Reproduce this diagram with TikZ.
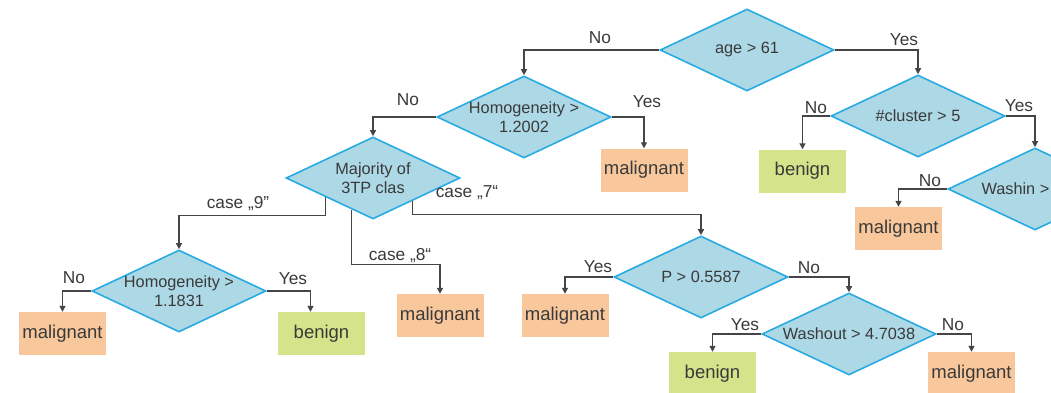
\documentclass[tikz,border=0pt]{standalone}
\usepackage{fontspec}
\setmainfont{Liberation Sans}
\usetikzlibrary{shapes.geometric,arrows.meta,calc}
\definecolor{dfill}{HTML}{ADD8E6}
\definecolor{dline}{HTML}{29ABE2}
\definecolor{malfill}{HTML}{F8C79B}
\definecolor{benfill}{HTML}{D5E38A}
\definecolor{ink}{HTML}{3A3A3A}
\definecolor{wire}{HTML}{454545}
\begin{document}
\begin{tikzpicture}[x=1pt,y=-1pt,
  every node/.style={text=ink,font=\fontsize{16.3}{18.5}\selectfont},
  test/.style={diamond,draw=dline,line width=1.6pt,fill=dfill,inner sep=0pt,
    minimum width=174pt,minimum height=82pt},
  leafbox/.style={rectangle,inner sep=0pt,minimum width=87pt,minimum height=43pt,
    font=\fontsize{18.5}{21}\selectfont},
  malig/.style={leafbox,fill=malfill},
  benig/.style={leafbox,fill=benfill},
  link/.style={draw=wire,line width=1.3pt,-{Triangle[length=6pt,width=6pt]}},
  tag/.style={inner sep=0pt,font=\fontsize{17.3}{19}\selectfont}]
\useasboundingbox (0,0) rectangle (1051,393);
\clip (0,0) rectangle (1051,393);

% decision nodes and leaves
\node[test] (d1) at (747,50) {};
\node (d1t) at (d1) {age > 61};
\node[test] (d2) at (524,117) {};
\node[align=center] (d2t) at (d2) {Homogeneity >\\1.2002};
\node[malig] (m1) at (644,170) {malignant};
\node[test] (d3) at (918,116) {};
\node (d3t) at (d3) {\#cluster > 5};
\node[benig] (b1) at (802.5,171) {benign};
\node[test] (d4) at (1035,189) {};
\node[anchor=west] (d4t) at (978,189) {Washin >};
\node[malig] (m2) at (898.5,228.5) {malignant};
\node[test] (d5) at (373,178) {};
\node[align=center] (d5t) at (d5) {Majority of\\3TP clas};
\node[test] (d6) at (179,291) {};
\node[align=center] (d6t) at (d6) {Homogeneity >\\1.1831};
\node[malig] (m3) at (62.5,333.5) {malignant};
\node[benig] (b2) at (321.5,333.5) {benign};
\node[malig] (m4) at (440,315.5) {malignant};
\node[test] (d7) at (701,277) {};
\node (d7t) at (d7) {P > 0.5587};
\node[malig] (m5) at (565,315.5) {malignant};
\node[test] (d8) at (849,334) {};
\node (d8t) at (d8) {Washout > 4.7038};
\node[benig] (b3) at (712.5,373.5) {benign};
\node[malig] (m6) at (971.5,373.5) {malignant};

% branches
\draw[link] (d1.west) -| (d2.north);
\draw[link] (d1.east) -| (d3.north);
\draw[link] (d2.east) -| (m1.north);
\draw[link] (d2.west) -| (d5.north);
\draw[link] (d3.west) -| (b1.north);
\draw[link] (d3.east) -| (d4.north);
\draw[link] (d4.west) -| (m2.north);
\draw[link] (d5.202) |- ($(d6.north)+(0,-34)$) -- (d6.north);
\draw[link] (d5.236) |- ($(m4.north)+(0,-29)$) -- (m4.north);
\draw[link] (d5.-30.6) |- ($(d7.north)+(0,-21)$) -- (d7.north);
\draw[link] (d6.west) -| (m3.north);
\draw[link] (d6.east) -| ($(b2.north)+(-11,0)$);
\draw[link] (d7.west) -| (m5.north);
\draw[link] (d7.east) -| (d8.north);
\draw[link] (d8.west) -| (b3.north);
\draw[link] (d8.east) -| (m6.north);

% branch labels
\node[tag] (l1) at (600,38) {No};
\node[tag] (l2) at (904,40) {Yes};
\node[tag] (l3) at (408,100) {No};
\node[tag] (l4) at (647,102) {Yes};
\node[tag] (l5) at (816,108) {No};
\node[tag] (l6) at (1019,106) {Yes};
\node[tag] (l7) at (930,181) {No};
\node[tag] (l8) at (238,204) {case „9"};
\node[tag] (l9) at (400,256) {case „8“};
\node[tag] (l10) at (467,193) {case „7“};
\node[tag] (l11) at (74,278) {No};
\node[tag] (l12) at (293,279) {Yes};
\node[tag] (l13) at (598,267) {Yes};
\node[tag] (l14) at (809,268) {No};
\node[tag] (l15) at (745,325) {Yes};
\node[tag] (l16) at (953,325) {No};
\end{tikzpicture}
\end{document}
